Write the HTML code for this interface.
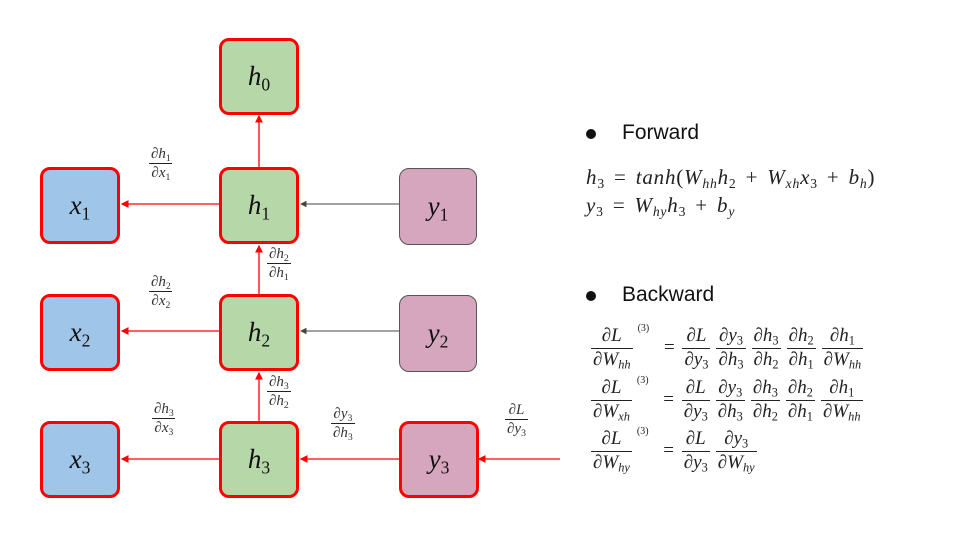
<!DOCTYPE html>
<html><head><meta charset="utf-8"><style>
body{margin:0;width:960px;height:540px;background:#fff;position:relative;overflow:hidden;font-family:"Liberation Serif",serif;}
.box{position:absolute;width:74px;height:71px;border:3px solid #f00;border-radius:10px;display:flex;align-items:center;justify-content:center;font-style:italic;font-size:27px;color:#111;box-sizing:content-box}
.g{background:#b6d7a8}.b{background:#9fc5e8}.p{background:#d5a6bd}
sub{font-size:65%;vertical-align:-0.3em;line-height:0}
.box sub,.m sub.n{font-style:normal}
.fr{display:inline-flex;flex-direction:column;align-items:center;vertical-align:middle;font-style:italic;margin:0 3px}
.fr>span{padding:0 2px;line-height:1.2}
.fr>.d{border-top:1px solid #222}
.lab{position:absolute;font-size:15px;color:#333}
.m{position:absolute;font-style:italic;font-size:21px;color:#222;white-space:nowrap;letter-spacing:0.8px;word-spacing:3px}
.eq{position:absolute;font-size:19px;color:#222;white-space:nowrap;display:flex;align-items:center}
.eq sup{font-size:10px;font-style:normal;align-self:flex-start;margin:-2px 10px 0 2px}
.txt{position:absolute;font-family:"Liberation Sans",sans-serif;font-size:21px;color:#111}
.dot{position:absolute;width:10px;height:10px;border-radius:50%;background:#111}
.n{font-style:normal}
</style></head><body>
<svg width="960" height="540" style="position:absolute;left:0;top:0">
<defs>
<marker id="ar" markerWidth="6" markerHeight="6" refX="5" refY="3" orient="auto"><path d="M0,0 L6,3 L0,6z" fill="#f00"/></marker>
<marker id="ag" markerWidth="6" markerHeight="6" refX="5" refY="3" orient="auto"><path d="M0,0 L6,3 L0,6z" fill="#444"/></marker>
</defs>
<g stroke="#f00" stroke-width="1.3" fill="none">
<line x1="259" y1="167" x2="259" y2="116" marker-end="url(#ar)"/>
<line x1="259" y1="294" x2="259" y2="246" marker-end="url(#ar)"/>
<line x1="259" y1="421" x2="259" y2="373" marker-end="url(#ar)"/>
<line x1="219" y1="204" x2="122" y2="204" marker-end="url(#ar)"/>
<line x1="219" y1="331" x2="122" y2="331" marker-end="url(#ar)"/>
<line x1="219" y1="459" x2="122" y2="459" marker-end="url(#ar)"/>
<line x1="399" y1="459" x2="301" y2="459" marker-end="url(#ar)"/>
<line x1="560" y1="459" x2="479" y2="459" marker-end="url(#ar)"/>
</g>
<g stroke="#444" stroke-width="1.1">
<line x1="399" y1="204" x2="301" y2="204" marker-end="url(#ag)"/>
<line x1="399" y1="331" x2="301" y2="331" marker-end="url(#ag)"/>
</g>
</svg>

<div class="box g" style="left:219px;top:38px"><span>h<sub>0</sub></span></div>
<div class="box b" style="left:40px;top:167px"><span>x<sub>1</sub></span></div>
<div class="box g" style="left:219px;top:167px"><span>h<sub>1</sub></span></div>
<div class="box p" style="left:399px;top:168px;border:1px solid #555;width:76px;height:75px"><span>y<sub>1</sub></span></div>
<div class="box b" style="left:40px;top:294px"><span>x<sub>2</sub></span></div>
<div class="box g" style="left:219px;top:294px"><span>h<sub>2</sub></span></div>
<div class="box p" style="left:399px;top:295px;border:1px solid #555;width:76px;height:75px"><span>y<sub>2</sub></span></div>
<div class="box b" style="left:40px;top:421px"><span>x<sub>3</sub></span></div>
<div class="box g" style="left:219px;top:421px"><span>h<sub>3</sub></span></div>
<div class="box p" style="left:399px;top:421px"><span>y<sub>3</sub></span></div>

<div class="lab" style="left:146px;top:145px"><span class="fr"><span>∂h<sub class="n">1</sub></span><span class="d">∂x<sub class="n">1</sub></span></span></div>
<div class="lab" style="left:146px;top:273px"><span class="fr"><span>∂h<sub class="n">2</sub></span><span class="d">∂x<sub class="n">2</sub></span></span></div>
<div class="lab" style="left:149px;top:400px"><span class="fr"><span>∂h<sub class="n">3</sub></span><span class="d">∂x<sub class="n">3</sub></span></span></div>
<div class="lab" style="left:264px;top:245px"><span class="fr"><span>∂h<sub class="n">2</sub></span><span class="d">∂h<sub class="n">1</sub></span></span></div>
<div class="lab" style="left:264px;top:373px"><span class="fr"><span>∂h<sub class="n">3</sub></span><span class="d">∂h<sub class="n">2</sub></span></span></div>
<div class="lab" style="left:328px;top:405px"><span class="fr"><span>∂y<sub class="n">3</sub></span><span class="d">∂h<sub class="n">3</sub></span></span></div>
<div class="lab" style="left:502px;top:401px"><span class="fr"><span>∂L</span><span class="d">∂y<sub class="n">3</sub></span></span></div>

<div class="dot" style="left:586px;top:129px"></div>
<div class="txt" style="left:622px;top:121px">Forward</div>
<div class="m" style="left:586px;top:165px">h<sub class="n">3</sub> <span class="n">=</span> tanh<span class="n">(</span>W<sub>hh</sub>h<sub class="n">2</sub> <span class="n">+</span> W<sub>xh</sub>x<sub class="n">3</sub> <span class="n">+</span> b<sub>h</sub><span class="n">)</span></div>
<div class="m" style="left:586px;top:193px">y<sub class="n">3</sub> <span class="n">=</span> W<sub>hy</sub>h<sub class="n">3</sub> <span class="n">+</span> b<sub>y</sub></div>

<div class="dot" style="left:586px;top:291px"></div>
<div class="txt" style="left:622px;top:283px">Backward</div>

<div class="eq" style="left:588px;top:325px"><span class="fr"><span>∂L</span><span class="d">∂W<sub>hh</sub></span></span><sup>(3)</sup><span>&nbsp;=&nbsp;</span><span class="fr"><span>∂L</span><span class="d">∂y<sub class="n">3</sub></span></span><span class="fr"><span>∂y<sub class="n">3</sub></span><span class="d">∂h<sub class="n">3</sub></span></span><span class="fr"><span>∂h<sub class="n">3</sub></span><span class="d">∂h<sub class="n">2</sub></span></span><span class="fr"><span>∂h<sub class="n">2</sub></span><span class="d">∂h<sub class="n">1</sub></span></span><span class="fr"><span>∂h<sub class="n">1</sub></span><span class="d">∂W<sub>hh</sub></span></span></div>
<div class="eq" style="left:588px;top:377px"><span class="fr"><span>∂L</span><span class="d">∂W<sub>xh</sub></span></span><sup>(3)</sup><span>&nbsp;=&nbsp;</span><span class="fr"><span>∂L</span><span class="d">∂y<sub class="n">3</sub></span></span><span class="fr"><span>∂y<sub class="n">3</sub></span><span class="d">∂h<sub class="n">3</sub></span></span><span class="fr"><span>∂h<sub class="n">3</sub></span><span class="d">∂h<sub class="n">2</sub></span></span><span class="fr"><span>∂h<sub class="n">2</sub></span><span class="d">∂h<sub class="n">1</sub></span></span><span class="fr"><span>∂h<sub class="n">1</sub></span><span class="d">∂W<sub>hh</sub></span></span></div>
<div class="eq" style="left:588px;top:428px"><span class="fr"><span>∂L</span><span class="d">∂W<sub>hy</sub></span></span><sup>(3)</sup><span>&nbsp;=&nbsp;</span><span class="fr"><span>∂L</span><span class="d">∂y<sub class="n">3</sub></span></span><span class="fr"><span>∂y<sub class="n">3</sub></span><span class="d">∂W<sub>hy</sub></span></span></div>
</body></html>
